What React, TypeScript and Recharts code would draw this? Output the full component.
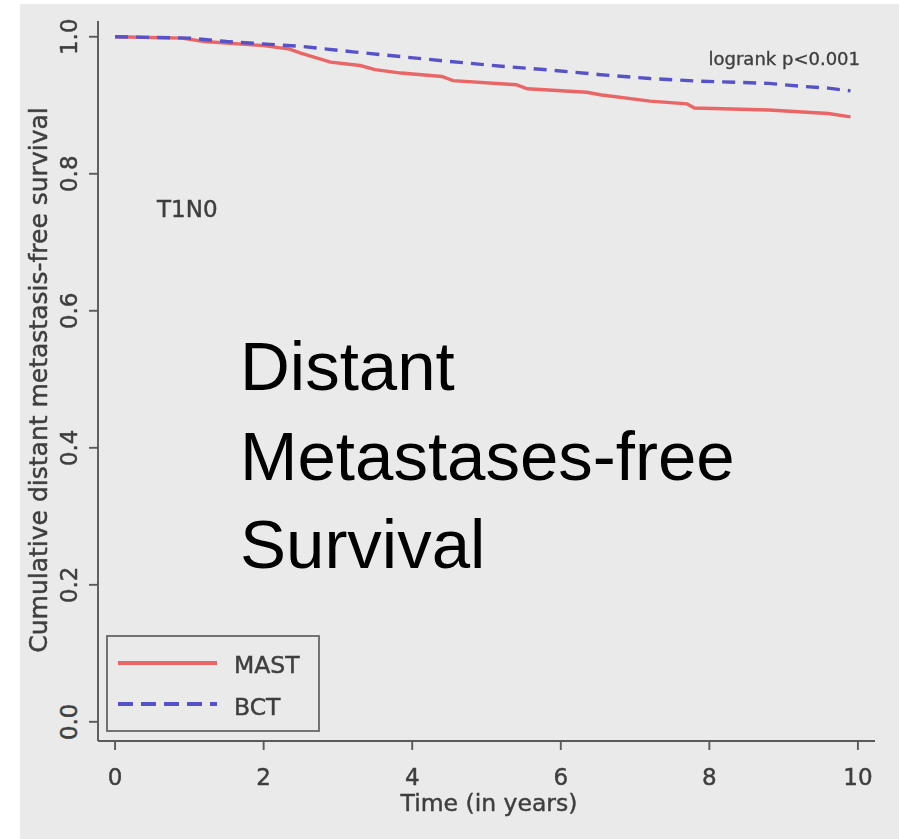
import React from 'react';
import { LineChart, Line, XAxis, YAxis, Customized } from 'recharts';

// Kaplan-Meier estimates, distant metastasis-free survival, T1N0 subgroup
const mastTime = [0, 0.9, 1.2, 2.0, 2.35, 2.5, 2.9, 3.3, 3.5, 3.85, 4.4, 4.55, 5.4, 5.55, 6.35, 6.55, 7.2, 7.7, 7.8, 8.8, 9.6, 9.9];
const mastSurvival = [1.0, 0.998, 0.993, 0.987, 0.982, 0.976, 0.963, 0.958, 0.952, 0.947, 0.942, 0.936, 0.93, 0.924, 0.919, 0.915, 0.906, 0.902, 0.896, 0.893, 0.888, 0.883];

const bctTime = [0, 1.0, 1.5, 2.5, 3.2, 3.85, 4.5, 5.2, 5.9, 6.5, 7.2, 7.9, 8.8, 9.2, 9.6, 9.9];
const bctSurvival = [1.0, 0.998, 0.993, 0.986, 0.978, 0.971, 0.964, 0.957, 0.951, 0.945, 0.939, 0.935, 0.932, 0.928, 0.925, 0.921];

const timeTicks = [0, 2, 4, 6, 8, 10];
const survivalTicks = [0, 0.2, 0.4, 0.6, 0.8, 1.0];

const seriesNames = ['MAST', 'BCT'];
const seriesColors = ['#ea6666', '#5852c8'];
const subgroupLabel = 'T1N0';
const testLabel = 'logrank p<0.001';
const headlineLines = ['Distant', 'Metastases-free', 'Survival'];
const xTitle = 'Time (in years)';
const yTitle = 'Cumulative distant metastasis-free survival';

const mastData = mastTime.map((t, i) => ({ t, s: mastSurvival[i] }));
const bctData = bctTime.map((t, i) => ({ t, s: bctSurvival[i] }));

const FONT = '"DejaVu Sans", sans-serif';
const INK = '#3e3e3e';
// slightly heavier strokes on the small chart text
const inkText = { fontFamily: FONT, fill: INK, stroke: INK, strokeWidth: 0.45 };

const XTick = (props: any) => {
  const { x, y, payload } = props;
  return (
    <text x={x} y={y + 33} textAnchor="middle" fontSize={23} {...inkText}>
      {payload.value}
    </text>
  );
};

const YTick = (props: any) => {
  const { x, y, payload } = props;
  const bx = x - 10;
  return (
    <text x={bx} y={y} transform={`rotate(-90, ${bx}, ${y})`} textAnchor="middle" fontSize={23} {...inkText}>
      {Number(payload.value).toFixed(1)}
    </text>
  );
};

const Annotations = () => (
  <g>
    <g className="km-soft">
      <text x={47} y={380} transform="rotate(-90, 47, 380)" textAnchor="middle" fontSize={25} {...inkText}>
        {yTitle}
      </text>
      <text x={489} y={811} textAnchor="middle" fontSize={23.5} {...inkText}>
        {xTitle}
      </text>
      <text x={157} y={217} fontSize={23} {...inkText}>
        {subgroupLabel}
      </text>
      <text x={860} y={65} textAnchor="end" fontSize={18} {...inkText} strokeWidth={0.35}>
        {testLabel}
      </text>
      <rect x={107} y={636} width={212} height={95} fill="none" stroke="#666" strokeWidth={1.8} />
      <line x1={118} x2={217} y1={663} y2={663} stroke={seriesColors[0]} strokeWidth={3.8} />
      <line x1={118} x2={217} y1={704} y2={704} stroke={seriesColors[1]} strokeWidth={3.8} strokeDasharray="15 8" />
      <text x={234} y={673} fontSize={23.5} {...inkText}>
        {seriesNames[0]}
      </text>
      <text x={234} y={715} fontSize={23.5} {...inkText}>
        {seriesNames[1]}
      </text>
    </g>
    <text fontFamily='"Liberation Sans", Arial, sans-serif' fontSize={69} fill="#000">
      <tspan x={240} y={390}>{headlineLines[0]}</tspan>
      <tspan x={240} y={480}>{headlineLines[1]}</tspan>
      <tspan x={240} y={568}>{headlineLines[2]}</tspan>
    </text>
  </g>
);

export default function App() {
  return (
    <div style={{ position: 'absolute', left: 0, top: 0, width: 899, height: 839, background: '#ffffff', overflow: 'hidden' }}>
      <style>{`.km-soft, .recharts-cartesian-axis, .recharts-line { filter: blur(0.6px); }`}</style>
      <div style={{ position: 'absolute', left: 20, top: 4, width: 879, height: 835, background: '#e9eae9' }} />
      <div style={{ position: 'absolute', left: 0, top: 0 }}>
        <LineChart width={899} height={839} margin={{ top: 21, right: 24, bottom: 38, left: 38 }}>
          <XAxis
            type="number"
            dataKey="t"
            domain={[-0.23, 10.23]}
            allowDataOverflow
            ticks={timeTicks}
            tickSize={9}
            height={60}
            axisLine={{ stroke: '#5a5a5a', strokeWidth: 1.9 }}
            tickLine={{ stroke: '#5a5a5a', strokeWidth: 1.9 }}
            tick={<XTick />}
          />
          <YAxis
            type="number"
            dataKey="s"
            domain={[-0.028, 1.023]}
            allowDataOverflow
            ticks={survivalTicks}
            tickSize={9}
            width={60}
            axisLine={{ stroke: '#5a5a5a', strokeWidth: 1.9 }}
            tickLine={{ stroke: '#5a5a5a', strokeWidth: 1.9 }}
            tick={<YTick />}
          />
          <Line
            data={mastData}
            dataKey="s"
            name={seriesNames[0]}
            type="linear"
            stroke={seriesColors[0]}
            strokeWidth={3.4}
            dot={false}
            activeDot={false}
            isAnimationActive={false}
          />
          <Line
            data={bctData}
            dataKey="s"
            name={seriesNames[1]}
            type="linear"
            stroke={seriesColors[1]}
            strokeWidth={3.4}
            strokeDasharray="13 8"
            dot={false}
            activeDot={false}
            isAnimationActive={false}
          />
          <Customized component={Annotations} />
        </LineChart>
      </div>
    </div>
  );
}
